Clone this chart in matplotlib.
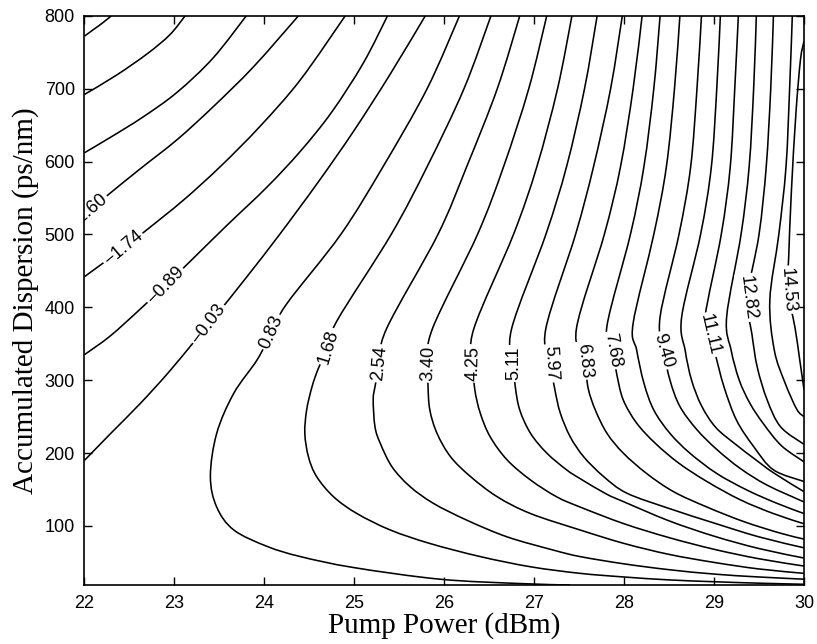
import matplotlib
matplotlib.use("Agg")
import matplotlib.pyplot as plt
from matplotlib.path import Path
from matplotlib.patches import PathPatch

# contour levels (gain, dB)
levels = [-5.17, -4.31, -3.46, -2.60, -1.74, -0.89, -0.03, 0.83, 1.68, 2.54, 3.40, 4.25,
          5.11, 5.97, 6.83, 7.68, 8.54, 9.40, 10.25, 11.11, 11.97, 12.82, 13.68, 14.53]

# traced contour lines: pump power (dBm) / accumulated dispersion (ps/nm), one list per level
power = [
    [22.00, 22.10, 22.20, 22.30],
    [22.00, 22.35, 22.70, 22.95, 23.12],
    [22.00, 22.30, 22.65, 23.03, 23.43, 23.80],
    [22.00, 22.25, 22.62, 23.03, 23.43, 23.88, 24.38],
    [22.00, 22.43, 22.69, 23.10, 23.51, 23.95, 24.40, 24.90],
    [22.00, 22.28, 22.58, 22.90, 23.20, 23.58, 24.03, 24.40, 24.75, 25.10, 25.37],
    [22.00, 22.30, 22.62, 22.93, 23.20, 23.45, 23.80, 24.17, 24.60, 25.00, 25.40, 25.79],
    [27.40, 26.84, 25.95, 24.99, 24.40, 24.03, 23.66, 23.47, 23.40, 23.47, 23.66, 23.92,
     24.08, 24.25, 24.85, 25.32, 25.81, 26.17],
    [30.00, 29.50, 29.00, 28.50, 28.00, 27.51, 26.96, 26.40, 25.84, 25.40, 25.03, 24.77,
     24.58, 24.49, 24.45, 24.47, 24.53, 24.60, 24.71, 24.81, 25.41, 25.81, 26.22, 26.52],
    [30.00, 29.50, 29.00, 28.50, 28.00, 27.51, 27.21, 26.70, 26.25, 25.88, 25.62, 25.42,
     25.29, 25.23, 25.21, 25.23, 25.28, 25.36, 25.93, 26.25, 26.59, 26.84],
    [30.00, 29.50, 29.00, 28.50, 28.00, 27.51, 26.96, 26.59, 26.29, 26.07, 25.92, 25.84,
     25.82, 25.82, 25.87, 26.37, 26.66, 26.94, 27.14],
    [30.00, 29.50, 29.00, 28.50, 28.00, 27.51, 27.25, 26.96, 26.70, 26.51, 26.40, 26.34,
     26.32, 26.33, 26.77, 27.03, 27.26, 27.42],
    [30.00, 29.50, 29.00, 28.50, 28.00, 27.80, 27.51, 27.36, 27.14, 26.96, 26.84, 26.79,
     26.77, 26.75, 27.13, 27.36, 27.56, 27.70],
    [30.00, 29.50, 29.00, 28.50, 28.03, 27.77, 27.55, 27.40, 27.29, 27.23, 27.18, 27.13,
     27.46, 27.66, 27.85, 27.98],
    [30.00, 29.74, 29.33, 28.92, 28.55, 28.25, 27.99, 27.81, 27.68, 27.60, 27.56, 27.47,
     27.78, 27.96, 28.10, 28.20],
    [30.00, 29.66, 29.29, 28.92, 28.61, 28.35, 28.14, 27.99, 27.92, 27.87, 27.81, 28.07,
     28.22, 28.33, 28.40],
    [30.00, 29.70, 29.37, 29.03, 28.73, 28.51, 28.33, 28.22, 28.14, 28.10, 28.33, 28.47,
     28.56, 28.62],
    [30.00, 29.59, 29.29, 29.03, 28.81, 28.62, 28.51, 28.44, 28.40, 28.61, 28.74, 28.81, 28.86],
    [30.00, 29.66, 29.44, 29.25, 29.02, 28.86, 28.75, 28.68, 28.64, 28.85, 28.97, 29.03, 29.07],
    [30.00, 29.66, 29.44, 29.25, 29.11, 29.01, 28.95, 28.90, 29.08, 29.18, 29.23, 29.27],
    [30.00, 29.75, 29.55, 29.40, 29.28, 29.19, 29.14, 29.30, 29.39, 29.44, 29.47],
    [30.00, 29.74, 29.59, 29.48, 29.42, 29.37, 29.50, 29.58, 29.63, 29.66],
    [30.00, 29.92, 29.79, 29.67, 29.62, 29.72, 29.80, 29.84, 29.87],
    [30.00, 29.95, 29.90, 29.82, 29.83, 29.86, 29.91, 29.96, 30.00],
]
dispersion = [
    [772, 781, 790, 800],
    [692, 718, 748, 774, 800],
    [612, 634, 661, 695, 742, 800],
    [527, 553, 590, 630, 675, 730, 800],
    [442, 481, 506, 547, 593, 648, 712, 800],
    [335, 360, 393, 430, 466, 512, 565, 614, 668, 735, 800],
    [190, 228, 268, 310, 350, 387, 441, 500, 572, 643, 720, 800],
    [19, 21, 27, 43, 58, 72, 94.5, 126, 168, 227, 282, 328, 366, 405, 500, 593, 700, 800],
    [20, 21.5, 23.5, 26, 30, 35, 44, 58, 76, 94.5, 117, 140, 168, 195, 227, 259, 291, 316,
     346, 382, 500, 593, 700, 800],
    [27, 30, 34, 40, 48, 58, 67, 85, 108, 131, 154, 181, 213, 236, 273, 291, 323, 371,
     500, 593, 700, 800],
    [35, 41, 50, 61, 76, 94.5, 117, 140, 168, 195, 227, 259, 291, 323, 371, 500, 593, 700, 800],
    [45, 55, 68, 84, 103, 126, 140, 163, 190.5, 222.5, 255, 287, 323, 371, 500, 593, 700, 800],
    [56, 69, 86, 107, 133, 144, 165, 177, 200, 227, 259, 291, 323, 371, 500, 593, 700, 800],
    [70, 85, 104, 124, 145, 168, 195, 222.5, 255, 287, 323, 371, 500, 593, 700, 800],
    [82, 90, 106, 126, 147, 172, 200, 227, 259, 289, 327, 371, 500, 593, 700, 800],
    [103, 117, 136, 161, 186, 213, 241, 273, 307, 341, 375, 500, 593, 700, 800],
    [117, 131, 149, 172, 200, 227, 259, 296, 341, 378, 500, 593, 700, 800],
    [133, 156, 179, 205, 232, 264, 300, 341, 387, 500, 593, 700, 800],
    [147, 173, 193, 211, 235, 265, 300, 340, 387, 500, 593, 700, 800],
    [161, 177, 209, 245, 291, 337, 362, 387, 500, 593, 700, 800],
    [188, 210, 240, 268, 300, 341, 387, 500, 593, 700, 800],
    [212, 236, 273, 318, 364, 413, 500, 593, 700, 800],
    [250, 260, 296, 341, 410, 500, 593, 700, 800],
    [287, 330, 372, 424, 470, 560, 666, 739, 765],
]

# inline contour labels
label_level = [-2.60, -1.74, -0.89, -0.03, 0.83, 1.68, 2.54, 3.40, 4.25, 5.11, 5.97,
               6.83, 7.68, 9.40, 11.11, 12.82, 14.53]
label_power = [22.04, 22.43, 22.90, 23.38, 24.08, 24.71, 25.28, 25.82, 26.32, 26.77, 27.18,
               27.56, 27.87, 28.44, 28.95, 29.37, 29.82]
label_disp = [531, 481, 430, 377, 366, 346, 323, 323, 323, 323, 323, 327, 341, 341, 362, 413, 424]

x_ticks = [22, 23, 24, 25, 26, 27, 28, 29, 30]
y_ticks = [100, 200, 300, 400, 500, 600, 700, 800]

sans = "Liberation Sans"
serif = "Liberation Serif"


def smooth_path(xs, ys):
    # Catmull-Rom through the traced points, drawn as cubic Bezier segments
    pts = list(zip(xs, ys))
    n = len(pts)
    verts = [pts[0]]
    codes = [Path.MOVETO]
    for i in range(n - 1):
        p0 = pts[i - 1] if i > 0 else pts[i]
        p1 = pts[i]
        p2 = pts[i + 1]
        p3 = pts[i + 2] if i + 2 < n else pts[i + 1]
        c1 = (p1[0] + (p2[0] - p0[0]) / 6.0, p1[1] + (p2[1] - p0[1]) / 6.0)
        c2 = (p2[0] - (p3[0] - p1[0]) / 6.0, p2[1] - (p3[1] - p1[1]) / 6.0)
        verts += [c1, c2, p2]
        codes += [Path.CURVE4] * 3
    return Path(verts, codes)


fig = plt.figure(figsize=(8.17, 6.44), dpi=100)
ax = fig.add_axes([0.1034, 0.0916, 0.8807, 0.884])

for p, d in zip(power, dispersion):
    ax.add_patch(PathPatch(smooth_path(p, d), fill=False, ec="black", lw=1.15, zorder=2))

rot = [40, 40, 46, 53, 66, 73, 84, 88, 89, 90, -87, -84, -80, -74, -77, -83, -86]
for lev, p, d, r in zip(label_level, label_power, label_disp, rot):
    txt = ("%.2f" % lev).replace("-", "\u2212")
    ax.text(p, d, txt, fontsize=13, family=sans, rotation=r, rotation_mode="anchor",
            ha="center", va="center", zorder=2.2, clip_on=True,
            bbox=dict(boxstyle="square,pad=0.1", fc="white", ec="none"))

ax.set_xlim(22, 30)
ax.set_ylim(19, 800)
ax.set_xticks(x_ticks)
ax.set_yticks(y_ticks)
ax.tick_params(direction="in", length=6, width=1, top=True, right=True, labelsize=13, pad=7)
for lab in ax.get_xticklabels() + ax.get_yticklabels():
    lab.set_family(sans)
for s in ax.spines.values():
    s.set_linewidth(1.2)

ax.set_xlabel("Pump Power (dBm)", family=serif, fontsize=21, labelpad=0)
ax.set_ylabel("Accumulated Dispersion (ps/nm)", family=serif, fontsize=21, labelpad=4)

fig.savefig("out.png", dpi=100)
